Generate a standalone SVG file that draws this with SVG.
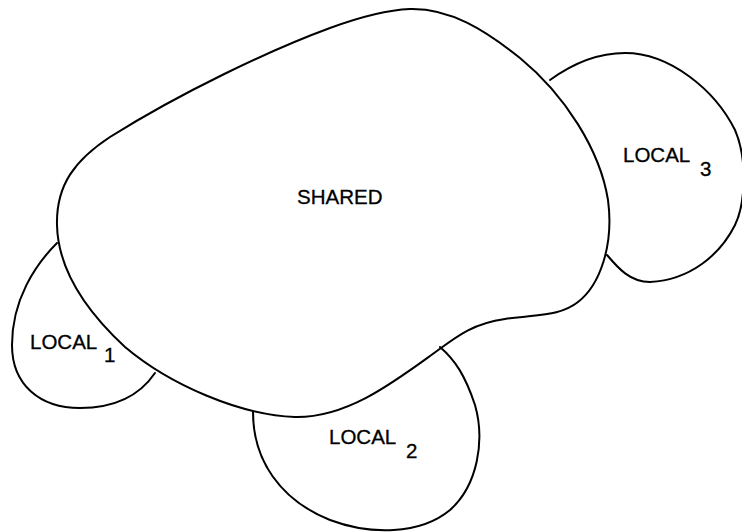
<svg xmlns="http://www.w3.org/2000/svg" width="742" height="532" viewBox="0 0 742 532">
<style>
.b{fill:none;stroke:#000;stroke-width:2;stroke-linejoin:round;stroke-linecap:round}
text{font-family:"Liberation Sans",Arial,sans-serif;font-size:20.5px;fill:#000;stroke:#000;stroke-width:0.3}
</style>
<rect width="742" height="532" fill="#fff"/>
<g id="shared">
<path class="b" d="M 410,9 C 450,8 485,30 520,58 C 565,95 600,150 608,200 C 614,245 600,285 578,302 C 560,316 540,314 505,319 C 470,324 455,338 430,356 C 390,385 345,418 295,417 C 240,415 170,385 125,347 C 85,310 58,270 57,225 C 56,185 75,160 110,137 C 180,93 270,50 330,28 C 360,17 385,10 410,9 Z"/>
<text x="297" y="204">SHARED</text>
</g>
<g id="local1">
<path class="b" d="M 57,243 C 35,265 12,300 12,345 C 12,385 40,408 80,408 C 115,408 140,395 155,373"/>
<text x="30" y="349">LOCAL</text>
<text x="104" y="362">1</text>
</g>
<g id="local2">
<path class="b" d="M 253,412 C 253,460 280,500 330,520 C 370,535 420,535 450,510 C 478,485 485,440 475,405 C 465,375 455,360 440,347"/>
<text x="329" y="444">LOCAL</text>
<text x="406" y="458">2</text>
</g>
<g id="local3">
<path class="b" d="M 550,80 C 572,64 598,53 625,53 C 670,53 715,90 735,130 C 748,160 745,205 735,225 C 720,255 690,280 650,282 C 630,282 618,268 607,255"/>
<text x="623" y="162">LOCAL</text>
<text x="700" y="176">3</text>
</g>
</svg>
